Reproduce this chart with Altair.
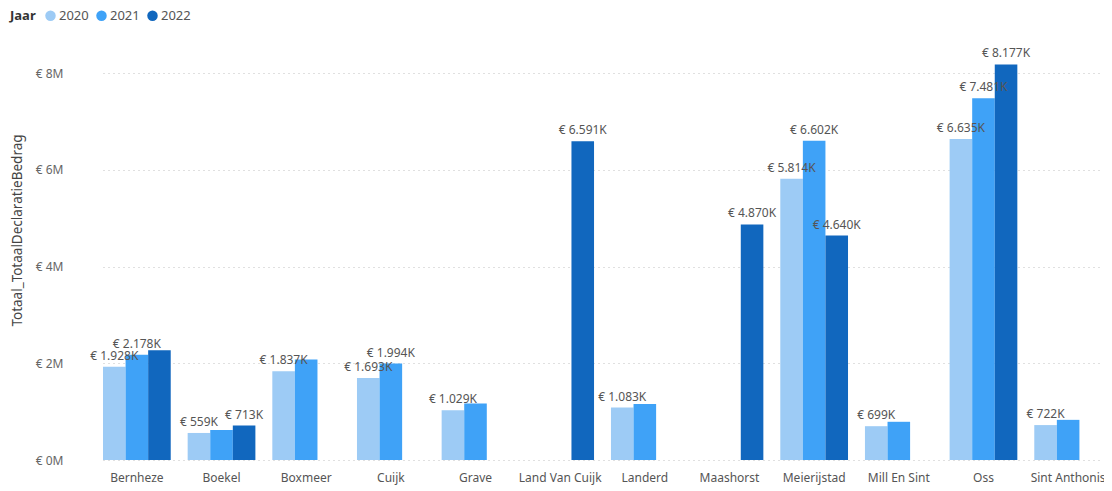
import altair as alt
import pandas as pd

gemeenten = ["Bernheze", "Boekel", "Boxmeer", "Cuijk", "Grave", "Land Van Cuijk",
             "Landerd", "Maashorst", "Meierijstad", "Mill En Sint", "Oss", "Sint Anthonis"]
jaren = ["2020", "2021", "2022"]
# values in thousands of euro (None = no bar)
waarde_2020 = [1928, 559, 1837, 1693, 1029, None, 1083, None, 5814, 699, 6635, 722]
waarde_2021 = [2178, 620, 2080, 1994, 1170, None, 1160, None, 6602, 790, 7481, 830]
waarde_2022 = [2270, 713, None, None, None, 6591, None, 4870, 4640, None, 8177, None]
# which bars carry a visible data label
label_2020 = [1, 1, 1, 1, 1, 0, 1, 0, 1, 1, 1, 1]
label_2021 = [1, 0, 0, 1, 0, 0, 0, 0, 1, 0, 1, 0]
label_2022 = [0, 1, 0, 0, 0, 1, 0, 1, 1, 0, 1, 0]
kleuren = ["#9dcbf5", "#3fa2f7", "#1167be"]

rows = []
for jaar, vals, labs in zip(jaren, [waarde_2020, waarde_2021, waarde_2022],
                            [label_2020, label_2021, label_2022]):
    for g, v, l in zip(gemeenten, vals, labs):
        if v is None:
            continue
        txt = ("€ " + f"{v:,}".replace(",", ".") + "K") if l else ""
        rows.append({"Gemeente": g, "Jaar": jaar, "Bedrag": v * 1000, "Label": txt})
df = pd.DataFrame(rows)

FONT = "Noto Sans"
W, H = 1031, 430

x = alt.X("Gemeente:N", sort=gemeenten, title=None,
          scale=alt.Scale(range=[30, W - 2], paddingInner=0.2, paddingOuter=0),
          axis=alt.Axis(labelAngle=0, ticks=False, domain=False, labelPadding=12,
                        labelFontSize=12, labelColor="#555555", labelFont=FONT))
y = alt.Y("Bedrag:Q", title="Totaal_TotaalDeclaratieBedrag",
          scale=alt.Scale(domain=[0, 8.89e6], nice=False),
          axis=alt.Axis(values=[0, 2e6, 4e6, 6e6, 8e6],
                        labelExpr="'€ ' + datum.value/1000000 + 'M'",
                        ticks=False, domain=False, labelPadding=10,
                        labelFontSize=12, labelColor="#666666", labelFont=FONT,
                        titleFont=FONT, titleFontSize=13.5, titleFontWeight="normal",
                        titleColor="#444444", titleX=-49, titleY=200,
                        gridDash=[1, 4], gridColor="#c0c0c0", gridWidth=1))
xo = alt.XOffset("Jaar:N", sort=jaren, scale=alt.Scale(paddingInner=0))
color = alt.Color("Jaar:N", sort=jaren,
                  scale=alt.Scale(domain=jaren, range=kleuren),
                  legend=alt.Legend(orient="none", legendX=-63, legendY=-21,
                                    direction="horizontal", title="Jaar",
                                    titleOrient="left", titleFont=FONT, titleFontSize=13,
                                    titleFontWeight="bold", titleColor="#333333",
                                    labelFont=FONT, labelFontSize=13, labelColor="#555555",
                                    symbolType="circle", symbolSize=110,
                                    symbolStrokeWidth=0, columnPadding=6, labelOffset=2,
                                    titlePadding=8))

bars = alt.Chart(df).mark_bar().encode(x=x, xOffset=xo, y=y, color=color)
labels = alt.Chart(df).mark_text(baseline="bottom", dy=-4, font=FONT, fontSize=12,
                                 color="#555555").encode(
    x=x, xOffset=xo, y=y, text="Label:N")

chart = alt.layer(bars, labels).properties(
    width=W, height=H,
    autosize=alt.AutoSizeParams(type="none"),
    padding={"left": 65, "top": 22, "right": 0, "bottom": 30},
).configure_view(stroke=None).configure_axis(grid=True).configure_axisX(grid=False)

chart.save("out.html", embed_options={"renderer": "svg", "actions": False})
